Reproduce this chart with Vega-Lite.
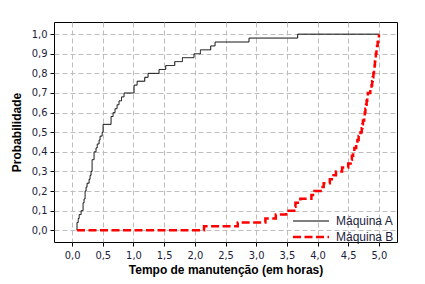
{
  "$schema": "https://vega.github.io/schema/vega-lite/v6.json",
  "width": 343,
  "height": 220,
  "autosize": {"type": "none"},
  "padding": {"left": 54, "top": 22, "right": 28, "bottom": 42},
  "background": "white",
  "config": {
    "view": {"stroke": "black", "strokeWidth": 1},
    "font": "Liberation Sans",
    "axis": {
      "grid": true,
      "gridColor": "#bdbdbd",
      "gridDash": [5, 3],
      "gridWidth": 1,
      "domain": false,
      "ticks": true,
      "tickColor": "black",
      "tickSize": 4,
      "labelFont": "Liberation Sans Narrow, DejaVu Sans Condensed, Liberation Sans",
      "labelFontSize": 11,
      "labelColor": "#1c1c3c",
      "labelPadding": 3,
      "titleFont": "Liberation Sans",
      "titleFontSize": 12,
      "titleFontWeight": "bold",
      "titleColor": "black"
    },
    "legend": {
      "labelFont": "Liberation Sans",
      "labelFontSize": 12,
      "labelColor": "#1c1c3c"
    }
  },
  "data": {
    "values": [
      {"maquina": "Máquina A", "tempo": 0.08, "prob": 0.0},
      {"maquina": "Máquina A", "tempo": 0.08, "prob": 0.04},
      {"maquina": "Máquina A", "tempo": 0.10, "prob": 0.06},
      {"maquina": "Máquina A", "tempo": 0.115, "prob": 0.08},
      {"maquina": "Máquina A", "tempo": 0.147, "prob": 0.10},
      {"maquina": "Máquina A", "tempo": 0.179, "prob": 0.14},
      {"maquina": "Máquina A", "tempo": 0.195, "prob": 0.16},
      {"maquina": "Máquina A", "tempo": 0.212, "prob": 0.20},
      {"maquina": "Máquina A", "tempo": 0.228, "prob": 0.22},
      {"maquina": "Máquina A", "tempo": 0.244, "prob": 0.24},
      {"maquina": "Máquina A", "tempo": 0.277, "prob": 0.26},
      {"maquina": "Máquina A", "tempo": 0.293, "prob": 0.28},
      {"maquina": "Máquina A", "tempo": 0.309, "prob": 0.30},
      {"maquina": "Máquina A", "tempo": 0.326, "prob": 0.36},
      {"maquina": "Máquina A", "tempo": 0.358, "prob": 0.40},
      {"maquina": "Máquina A", "tempo": 0.39, "prob": 0.42},
      {"maquina": "Máquina A", "tempo": 0.41, "prob": 0.44},
      {"maquina": "Máquina A", "tempo": 0.44, "prob": 0.46},
      {"maquina": "Máquina A", "tempo": 0.456, "prob": 0.48},
      {"maquina": "Máquina A", "tempo": 0.49, "prob": 0.50},
      {"maquina": "Máquina A", "tempo": 0.505, "prob": 0.54},
      {"maquina": "Máquina A", "tempo": 0.635, "prob": 0.58},
      {"maquina": "Máquina A", "tempo": 0.668, "prob": 0.60},
      {"maquina": "Máquina A", "tempo": 0.70, "prob": 0.62},
      {"maquina": "Máquina A", "tempo": 0.733, "prob": 0.64},
      {"maquina": "Máquina A", "tempo": 0.765, "prob": 0.66},
      {"maquina": "Máquina A", "tempo": 0.805, "prob": 0.68},
      {"maquina": "Máquina A", "tempo": 0.847, "prob": 0.70},
      {"maquina": "Máquina A", "tempo": 1.01, "prob": 0.74},
      {"maquina": "Máquina A", "tempo": 1.06, "prob": 0.76},
      {"maquina": "Máquina A", "tempo": 1.184, "prob": 0.78},
      {"maquina": "Máquina A", "tempo": 1.238, "prob": 0.80},
      {"maquina": "Máquina A", "tempo": 1.417, "prob": 0.82},
      {"maquina": "Máquina A", "tempo": 1.526, "prob": 0.84},
      {"maquina": "Máquina A", "tempo": 1.673, "prob": 0.86},
      {"maquina": "Máquina A", "tempo": 1.798, "prob": 0.88},
      {"maquina": "Máquina A", "tempo": 1.987, "prob": 0.90},
      {"maquina": "Máquina A", "tempo": 2.091, "prob": 0.92},
      {"maquina": "Máquina A", "tempo": 2.259, "prob": 0.94},
      {"maquina": "Máquina A", "tempo": 2.33, "prob": 0.96},
      {"maquina": "Máquina A", "tempo": 2.883, "prob": 0.98},
      {"maquina": "Máquina A", "tempo": 3.676, "prob": 1.0},
      {"maquina": "Máquina A", "tempo": 5.0, "prob": 1.0},
      {"maquina": "Máquina B", "tempo": 0.08, "prob": 0.0},
      {"maquina": "Máquina B", "tempo": 2.15, "prob": 0.02},
      {"maquina": "Máquina B", "tempo": 2.70, "prob": 0.04},
      {"maquina": "Máquina B", "tempo": 3.15, "prob": 0.06},
      {"maquina": "Máquina B", "tempo": 3.32, "prob": 0.08},
      {"maquina": "Máquina B", "tempo": 3.49, "prob": 0.10},
      {"maquina": "Máquina B", "tempo": 3.62, "prob": 0.12},
      {"maquina": "Máquina B", "tempo": 3.64, "prob": 0.14},
      {"maquina": "Máquina B", "tempo": 3.72, "prob": 0.16},
      {"maquina": "Máquina B", "tempo": 3.90, "prob": 0.18},
      {"maquina": "Máquina B", "tempo": 3.95, "prob": 0.20},
      {"maquina": "Máquina B", "tempo": 4.05, "prob": 0.22},
      {"maquina": "Máquina B", "tempo": 4.10, "prob": 0.24},
      {"maquina": "Máquina B", "tempo": 4.20, "prob": 0.26},
      {"maquina": "Máquina B", "tempo": 4.26, "prob": 0.28},
      {"maquina": "Máquina B", "tempo": 4.30, "prob": 0.30},
      {"maquina": "Máquina B", "tempo": 4.40, "prob": 0.32},
      {"maquina": "Máquina B", "tempo": 4.50, "prob": 0.34},
      {"maquina": "Máquina B", "tempo": 4.54, "prob": 0.36},
      {"maquina": "Máquina B", "tempo": 4.56, "prob": 0.38},
      {"maquina": "Máquina B", "tempo": 4.58, "prob": 0.40},
      {"maquina": "Máquina B", "tempo": 4.60, "prob": 0.42},
      {"maquina": "Máquina B", "tempo": 4.63, "prob": 0.44},
      {"maquina": "Máquina B", "tempo": 4.65, "prob": 0.46},
      {"maquina": "Máquina B", "tempo": 4.67, "prob": 0.48},
      {"maquina": "Máquina B", "tempo": 4.70, "prob": 0.50},
      {"maquina": "Máquina B", "tempo": 4.72, "prob": 0.52},
      {"maquina": "Máquina B", "tempo": 4.73, "prob": 0.54},
      {"maquina": "Máquina B", "tempo": 4.74, "prob": 0.56},
      {"maquina": "Máquina B", "tempo": 4.76, "prob": 0.58},
      {"maquina": "Máquina B", "tempo": 4.77, "prob": 0.60},
      {"maquina": "Máquina B", "tempo": 4.78, "prob": 0.62},
      {"maquina": "Máquina B", "tempo": 4.79, "prob": 0.64},
      {"maquina": "Máquina B", "tempo": 4.80, "prob": 0.66},
      {"maquina": "Máquina B", "tempo": 4.81, "prob": 0.68},
      {"maquina": "Máquina B", "tempo": 4.82, "prob": 0.70},
      {"maquina": "Máquina B", "tempo": 4.86, "prob": 0.72},
      {"maquina": "Máquina B", "tempo": 4.88, "prob": 0.74},
      {"maquina": "Máquina B", "tempo": 4.89, "prob": 0.76},
      {"maquina": "Máquina B", "tempo": 4.90, "prob": 0.78},
      {"maquina": "Máquina B", "tempo": 4.91, "prob": 0.80},
      {"maquina": "Máquina B", "tempo": 4.92, "prob": 0.82},
      {"maquina": "Máquina B", "tempo": 4.93, "prob": 0.84},
      {"maquina": "Máquina B", "tempo": 4.935, "prob": 0.86},
      {"maquina": "Máquina B", "tempo": 4.94, "prob": 0.88},
      {"maquina": "Máquina B", "tempo": 4.95, "prob": 0.90},
      {"maquina": "Máquina B", "tempo": 4.96, "prob": 0.92},
      {"maquina": "Máquina B", "tempo": 4.97, "prob": 0.94},
      {"maquina": "Máquina B", "tempo": 4.98, "prob": 0.96},
      {"maquina": "Máquina B", "tempo": 4.99, "prob": 0.98},
      {"maquina": "Máquina B", "tempo": 5.0, "prob": 1.0}
    ]
  },
  "mark": {"type": "line", "interpolate": "step-after", "clip": true},
  "encoding": {
    "x": {
      "field": "tempo",
      "type": "quantitative",
      "scale": {"domain": [-0.295, 5.295], "nice": false, "zero": false},
      "axis": {
        "title": "Tempo de manutenção (em horas)",
        "values": [0, 0.5, 1, 1.5, 2, 2.5, 3, 3.5, 4, 4.5, 5],
        "labelExpr": "replace(format(datum.value, '.1f'), '.', ',')",
        "titlePadding": 4
      }
    },
    "y": {
      "field": "prob",
      "type": "quantitative",
      "scale": {"domain": [-0.06, 1.062], "nice": false, "zero": false},
      "axis": {
        "title": "Probabilidade",
        "values": [0, 0.1, 0.2, 0.3, 0.4, 0.5, 0.6, 0.7, 0.8, 0.9, 1.0],
        "labelExpr": "replace(format(datum.value, '.1f'), '.', ',')",
        "titlePadding": 8
      }
    },
    "color": {
      "field": "maquina",
      "type": "nominal",
      "scale": {"domain": ["Máquina A", "Máquina B"], "range": ["black", "#ff0000"]},
      "legend": {
        "title": null,
        "orient": "none",
        "legendX": 251,
        "legendY": 193,
        "symbolType": "M-4,0H4",
        "symbolSize": 81,
        "symbolStrokeWidth": 2.5,
        "labelOffset": 19,
        "rowPadding": 4,
        "padding": 0
      }
    },
    "strokeDash": {
      "field": "maquina",
      "type": "nominal",
      "scale": {"domain": ["Máquina A", "Máquina B"], "range": [[1, 0], [8, 3.5]]},
      "legend": null
    },
    "strokeWidth": {
      "field": "maquina",
      "type": "nominal",
      "scale": {"domain": ["Máquina A", "Máquina B"], "range": [1, 2.5]},
      "legend": null
    }
  }
}
